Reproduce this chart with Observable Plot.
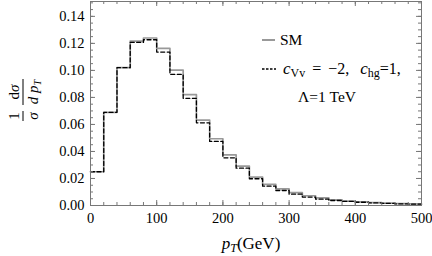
<!DOCTYPE html>
<html><head><meta charset="utf-8">
<script src="https://cdn.jsdelivr.net/npm/d3@7"></script>
<script src="https://cdn.jsdelivr.net/npm/@observablehq/plot@0.6"></script>
<style>body{margin:0;background:#fff} svg{display:block}</style>
</head><body><div id="chart"></div>
<script>
const binStart = [0,20,40,60,80,100,120,140,160,180,200,220,240,260,280,300,320,340,360,380,400,420,440,460,480];
const binEnd = 500;
const smValues = [0.025,0.069,0.102,0.1217,0.1240,0.1163,0.1002,0.0820,0.0632,0.0494,0.0375,0.0291,0.0210,0.0156,0.0123,0.0096,0.0072,0.0057,0.0042,0.0033,0.0027,0.0022,0.0017,0.0014,0.0012];
const bsmValues = [0.025,0.069,0.102,0.1207,0.1227,0.1136,0.0970,0.0793,0.0612,0.0474,0.0353,0.0276,0.0198,0.0143,0.0111,0.0084,0.0062,0.0047,0.0037,0.0030,0.0024,0.0019,0.0015,0.0012,0.0010];
const xTickValues = [0,100,200,300,400,500];
const xTickLabels = ["0","100","200","300","400","500"];
const yTickValues = [0,0.02,0.04,0.06,0.08,0.10,0.12,0.14];
const yTickLabels = ["0.00","0.02","0.04","0.06","0.08","0.10","0.12","0.14"];
const xMinor = d3.range(0, 501, 20);
const yMinor = d3.range(0, 0.1501, 0.005);

const rows = binStart.map((x, i) => ({x, sm: smValues[i], bsm: bsmValues[i]}))
  .concat([{x: binEnd, sm: smValues[smValues.length-1], bsm: bsmValues[bsmValues.length-1]}]);

const W = 432, H = 256, mL = 90, mR = 11, mT = 1, mB = 51;
const innerH = H - mT - mB, innerW = W - mL - mR;
const serif = "'Liberation Serif','Times New Roman',serif";
const tickCol = "#777";

const plot = Plot.plot({
  width: W, height: H, marginLeft: mL, marginRight: mR, marginTop: mT, marginBottom: mB,
  x: {domain: [0, 500]},
  y: {domain: [0, 0.151]},
  style: {fontFamily: serif, fontSize: "14.5px", background: "white", color: "#000"},
  marks: [
    Plot.lineY(rows, {x: "x", y: "sm", curve: "step-after", stroke: "#999", strokeWidth: 1.7}),
    Plot.lineY(rows, {x: "x", y: "bsm", curve: "step-after", stroke: "#000", strokeWidth: 1.3, strokeDasharray: "4,2.5"}),
    Plot.ruleX(xMinor, {stroke: tickCol, insetTop: innerH - 3}),
    Plot.ruleX(xMinor, {stroke: tickCol, insetBottom: innerH - 3}),
    Plot.ruleX(xTickValues, {stroke: tickCol, insetTop: innerH - 5}),
    Plot.ruleX(xTickValues, {stroke: tickCol, insetBottom: innerH - 5}),
    Plot.ruleY(yMinor, {stroke: tickCol, insetRight: innerW - 3}),
    Plot.ruleY(yMinor, {stroke: tickCol, insetLeft: innerW - 3}),
    Plot.ruleY(yTickValues, {stroke: tickCol, insetRight: innerW - 5}),
    Plot.ruleY(yTickValues, {stroke: tickCol, insetLeft: innerW - 5}),
    Plot.frame({stroke: tickCol}),
    Plot.axisX(xTickValues, {tickSize: 0, tickPadding: 7, label: null, tickFormat: d => xTickLabels[xTickValues.indexOf(d)]}),
    Plot.axisY(yTickValues, {tickSize: 0, tickPadding: 6, label: null, tickFormat: d => yTickLabels[yTickValues.indexOf(d)]})
  ]
});
document.getElementById("chart").appendChild(plot);

const svg = d3.select(plot);
// x label
const xl = svg.append("text").attr("x", 251).attr("y", 249).attr("text-anchor", "middle")
  .attr("font-family", serif).attr("font-size", 17).attr("fill", "#000");
xl.append("tspan").attr("font-style", "italic").text("p");
xl.append("tspan").attr("font-style", "italic").attr("font-size", 12).attr("dy", 3).text("T");
xl.append("tspan").attr("dy", -3).text("(GeV)");

// y label (rotated fraction)
const g = svg.append("g").attr("transform", "translate(27,101) rotate(-90)")
  .attr("font-family", serif).attr("font-size", 15).attr("fill", "#000");
g.append("text").attr("x", -15).attr("y", -8).attr("text-anchor", "middle").text("1");
g.append("line").attr("x1", -20).attr("x2", -10).attr("y1", -4).attr("y2", -4).attr("stroke", "#000");
g.append("text").attr("x", -15).attr("y", 11).attr("text-anchor", "middle").attr("font-style", "italic").text("σ");
const num = g.append("text").attr("x", 9).attr("y", -8).attr("text-anchor", "middle");
num.append("tspan").text("d");
num.append("tspan").attr("font-style", "italic").text("σ");
g.append("line").attr("x1", -4).attr("x2", 22).attr("y1", -4).attr("y2", -4).attr("stroke", "#000");
const den = g.append("text").attr("x", 9).attr("y", 11).attr("text-anchor", "middle").attr("font-style", "italic");
den.append("tspan").text("d p");
den.append("tspan").attr("font-size", 10).attr("dy", 3).text("T");

// legend
const lg = svg.append("g").attr("font-family", serif).attr("font-size", 15.5).attr("fill", "#000").attr("text-anchor", "start");
lg.append("line").attr("x1", 262).attr("x2", 275).attr("y1", 40).attr("y2", 40).attr("stroke", "#555").attr("stroke-width", 1.2);
lg.append("text").attr("x", 280).attr("y", 45).text("SM");
lg.append("line").attr("x1", 262).attr("x2", 276).attr("y1", 69).attr("y2", 69).attr("stroke", "#000").attr("stroke-width", 1.3).attr("stroke-dasharray", "2.5,1.5");
const t2 = lg.append("text").attr("x", 283).attr("y", 74).attr("font-size", 16);
t2.append("tspan").attr("font-style", "italic").attr("font-size", 17).text("c");
t2.append("tspan").attr("font-size", 12).attr("dy", 3).text("Vv");
t2.append("tspan").attr("dy", -3).attr("dx", 7).text("=");
t2.append("tspan").attr("dx", 7).text("−2,");
t2.append("tspan").attr("dx", 11).attr("font-style", "italic").attr("font-size", 17).text("c");
t2.append("tspan").attr("font-size", 12).attr("dy", 3).text("hg");
t2.append("tspan").attr("dy", -3).text("=1,");
lg.append("text").attr("x", 298).attr("y", 102).text("Λ=1 TeV");
</script></body></html>
